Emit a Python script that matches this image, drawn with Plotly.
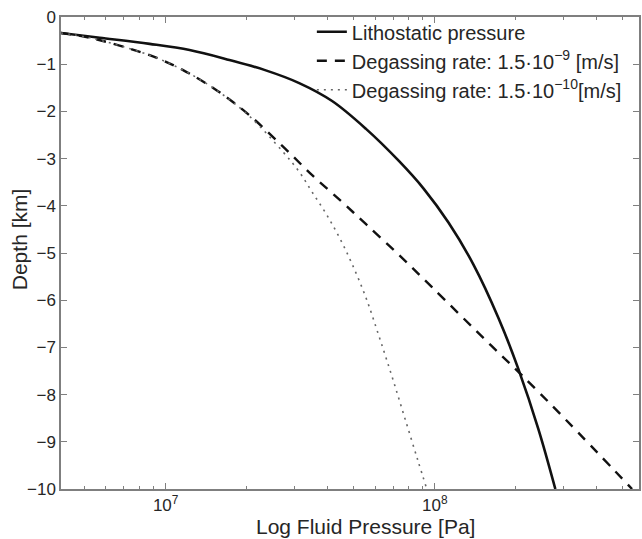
import plotly.graph_objects as go

# Lithostatic pressure profile: fluid pressure [Pa] vs depth [km]
litho_pressure = [4.08e6, 5.69e6, 8.72e6, 1.227e7, 1.725e7, 2.326e7, 3.135e7, 4.154e7,
                  5.552e7, 7.356e7, 9.104e7, 1.126e8, 1.394e8, 1.726e8, 2.046e8,
                  2.427e8, 2.806e8]
litho_depth = [-0.34, -0.44, -0.57, -0.70, -0.91, -1.12, -1.40, -1.78,
               -2.37, -3.05, -3.64, -4.36, -5.25, -6.38, -7.46, -8.73, -10.0]

# Degassing rate 1.5e-9 m/s
fast_pressure = [4.08e6, 5.23e6, 8.72e6, 1.156e7, 1.545e7, 2.046e7, 2.712e7, 3.503e7,
                 4.523e7, 5.553e7, 7.356e7, 9.745e7, 1.626e8, 2.082e8, 3.055e8, 5.41e8]
fast_depth = [-0.34, -0.44, -0.81, -1.12, -1.55, -2.08, -2.73, -3.35,
              -3.92, -4.39, -5.04, -5.72, -6.97, -7.56, -8.52, -10.0]

# Degassing rate 1.5e-10 m/s
slow_pressure = [4.08e6, 5.23e6, 8.72e6, 1.156e7, 1.545e7, 2.046e7, 2.712e7, 3.135e7,
                 3.503e7, 3.947e7, 4.41e7, 4.926e7, 5.553e7, 6.202e7, 6.929e7,
                 7.742e7, 8.65e7, 9.34e7]
slow_depth = [-0.34, -0.44, -0.81, -1.12, -1.55, -2.10, -2.84, -3.28,
              -3.71, -4.17, -4.66, -5.23, -5.95, -6.76, -7.61,
              -8.50, -9.39, -10.0]

x_major = [1e7, 1e8]
x_major_text = ["10<sup>7</sup>", "10<sup>8</sup>"]
x_minor = [5e6, 6e6, 7e6, 8e6, 9e6, 2e7, 3e7, 4e7, 5e7, 6e7, 7e7, 8e7, 9e7,
           2e8, 3e8, 4e8, 5e8]
y_ticks = list(range(-10, 1))

FONT = "Liberation Sans, Arial, sans-serif"
AXIS_GRAY = "#7f7f7f"
TEXT = "#262626"

fig = go.Figure()
fig.add_trace(go.Scatter(
    x=litho_pressure, y=litho_depth, mode="lines",
    line_shape="spline",
    name="Lithostatic pressure",
    line=dict(color="#111111", width=2.6, smoothing=1.0)))
fig.add_trace(go.Scatter(
    x=fast_pressure, y=fast_depth, mode="lines",
    line_shape="spline",
    name="Degassing rate: 1.5\u00b710<sup>\u22129</sup> [m/s]",
    line=dict(color="#111111", width=2.4, dash="10px,8px", smoothing=1.0)))
fig.add_trace(go.Scatter(
    x=slow_pressure, y=slow_depth, mode="lines",
    line_shape="spline",
    name="Degassing rate: 1.5\u00b710<sup>\u221210</sup>[m/s]",
    line=dict(color="#666666", width=1.6, dash="2px,5px", smoothing=1.0)))

fig.update_layout(
    width=642, height=539,
    margin=dict(l=61, r=1, t=17, b=50),
    paper_bgcolor="white", plot_bgcolor="white",
    font=dict(family=FONT, size=17, color=TEXT),
    showlegend=True,
    legend=dict(x=0.434, y=1.01, xanchor="left", yanchor="top",
                bgcolor="rgba(0,0,0,0)", borderwidth=0,
                font=dict(size=20, color=TEXT),
                itemwidth=30, tracegroupgap=0),
    annotations=[
        dict(text="Log Fluid Pressure [Pa]", xref="paper", yref="paper",
             x=0.526, y=-0.0805, xanchor="center", yanchor="middle",
             showarrow=False, font=dict(size=21, color=TEXT)),
        dict(text="Depth [km]", xref="paper", yref="paper",
             x=-0.072, y=0.530, xanchor="center", yanchor="middle",
             textangle=-90, showarrow=False, font=dict(size=21, color=TEXT)),
    ],
)

fig.update_xaxes(
    type="log", range=[6.611, 8.759],
    showgrid=False, zeroline=False,
    showline=True, linecolor=AXIS_GRAY, linewidth=1.5, mirror="ticks",
    ticks="inside", ticklen=6, tickcolor=AXIS_GRAY, tickwidth=1,
    tickvals=x_major, ticktext=x_major_text,
    minor=dict(tickvals=x_minor, ticks="inside", ticklen=3,
               tickcolor=AXIS_GRAY, tickwidth=1, showgrid=False),
    tickfont=dict(size=17),
)
fig.update_yaxes(
    range=[-10, 0], showgrid=False, zeroline=False,
    showline=True, linecolor=AXIS_GRAY, linewidth=1.5, mirror="ticks",
    ticks="inside", ticklen=6, tickcolor=AXIS_GRAY, tickwidth=1,
    tickvals=y_ticks,
    tickfont=dict(size=17),
)

fig.write_html("out.html")
